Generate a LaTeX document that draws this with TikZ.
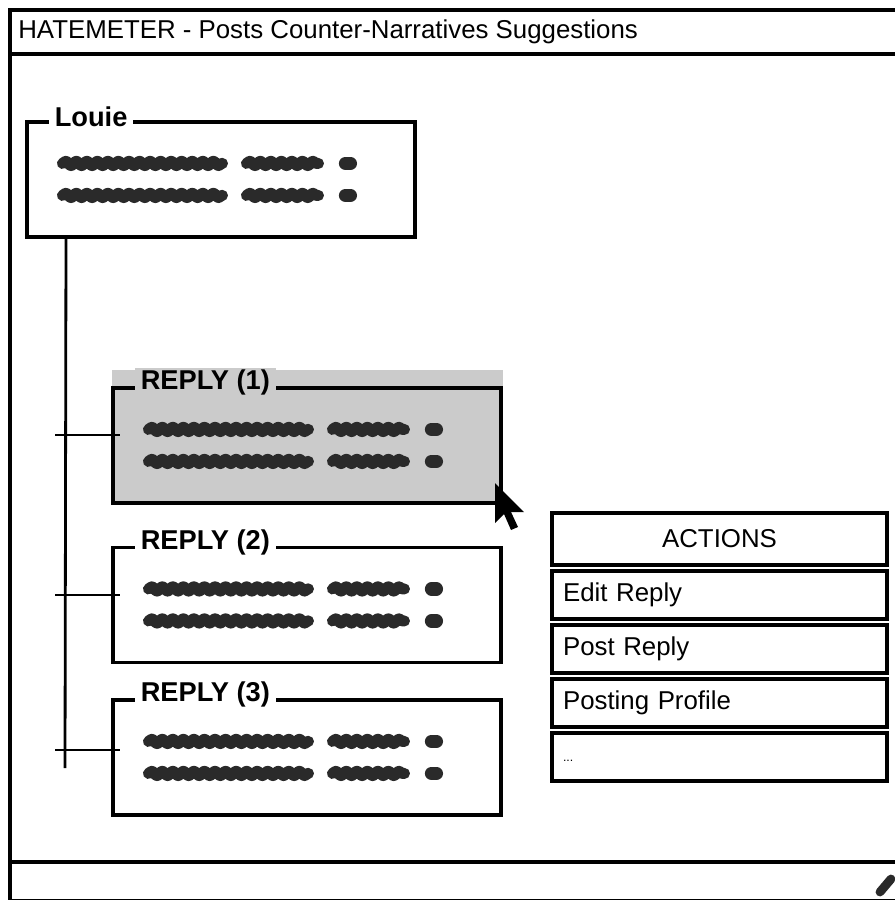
\documentclass[tikz,border=0pt]{standalone}
\usepackage{fontspec}
\setmainfont{Liberation Sans}
\usetikzlibrary{positioning,calc,decorations.pathmorphing}
\definecolor{xgray}{RGB}{203,203,203}
\definecolor{xink}{RGB}{42,42,42}

\begin{document}
\begin{tikzpicture}[x=0.02cm, y=-0.02cm,
	every node/.style={font=\fontsize{14.7}{17}\selectfont},
	frame/.style={line width=2.2pt},
	postbox/.style={draw, line width=1.8pt, minimum width=7.76cm, minimum height=2.3cm, inner sep=0},
	boxlabel/.style={fill=white, inner xsep=0.12cm, inner ysep=1pt, font=\fontsize{15.5}{17}\selectfont\bfseries},
	scrib/.style={draw=xink, line width=6.3pt, line cap=round, line join=round, decorate, decoration={snake, amplitude=1.2pt, segment length=6pt}},
	branch/.style={line width=1.6pt},
	actbox/.style={draw, line width=1.8pt, outer sep=0, minimum width=6.7cm, minimum height=0.96cm, text width=6.26cm, inner xsep=0.22cm, align=left}]
	\useasboundingbox (0,0) rectangle (894,900);
	\def \gap {0.12cm}
	% hidden text lines inside a post box
	\def \hidetext #1{
		\foreach \dy in {43,75} {
			\draw[scrib] ($(#1.north west)+(37,\dy)$) -- ($(#1.north west)+(197,\dy)$);
			\draw[scrib] ($(#1.north west)+(221,\dy)$) -- ($(#1.north west)+(293,\dy)$);
			\draw[xink, line width=7.5pt, line cap=round] ($(#1.north west)+(320,\dy)$) -- ($(#1.north west)+(325,\dy)$);
		}
	}
	% window
	\draw[frame] (10,10) rectangle (904,901);
	\draw[frame] (10,54) -- (904,54);
	\draw[frame] (10,862) -- (904,862);
	\node[anchor=west, inner sep=0] at (18,32) (title) {HATEMETER - Posts Counter-Narratives Suggestions};
	\draw[xink, line width=5pt, line cap=round] (880,892) -- (891,879);
	% post
	\node[postbox] at (221,179.5) (louie) {};
	\node[boxlabel, right=0.46cm of louie.north west, yshift=2pt] (louielabel) {Louie};
	\hidetext{louie}
	% replies
	\fill[xgray] (112,370) rectangle (503,503);
	\node[postbox, fill=xgray] at (307,445.5) (reply1) {};
	\node[boxlabel, fill=xgray, right=0.46cm of reply1.north west, yshift=2pt] (reply1label) {REPLY (1)};
	\hidetext{reply1}
	\node[postbox] at (307,605) (reply2) {};
	\node[boxlabel, right=0.46cm of reply2.north west, yshift=2pt] (reply2label) {REPLY (2)};
	\hidetext{reply2}
	\node[postbox] at (307,757.5) (reply3) {};
	\node[boxlabel, right=0.46cm of reply3.north west, yshift=2pt] (reply3label) {REPLY (3)};
	\hidetext{reply3}
	% thread
	\coordinate (trunktop) at (louie.south -| 66,0);
	\coordinate (trunkend) at (65,768);
	\draw[branch] (trunktop) -- (trunkend);
	\foreach \r/\y in {1/435, 2/595, 3/750} {
		\coordinate (fork\r) at (55,\y);
		\draw[branch] (fork\r) -- ($(fork\r -| reply\r.west)+(9,0)$);
	}
	% mouse pointer
	\fill (495,483) -- (495,523) -- (504,514) -- (511,530) -- (518,527) -- (511,512) -- (524,512) -- cycle;
	% actions menu
	\node[actbox, align=center, minimum height=1.04cm] at (719.5,539) (actions) {ACTIONS};
	\node[actbox, below=\gap of actions] (edit) {Edit Reply};
	\node[actbox, below=\gap of edit] (post) {Post Reply};
	\node[actbox, below=\gap of post] (profile) {Posting Profile};
	\node[actbox, below=\gap of profile, line width=2.4pt] (more) {\raisebox{-0.2cm}{\scriptsize ...}};
\end{tikzpicture}
\end{document}
